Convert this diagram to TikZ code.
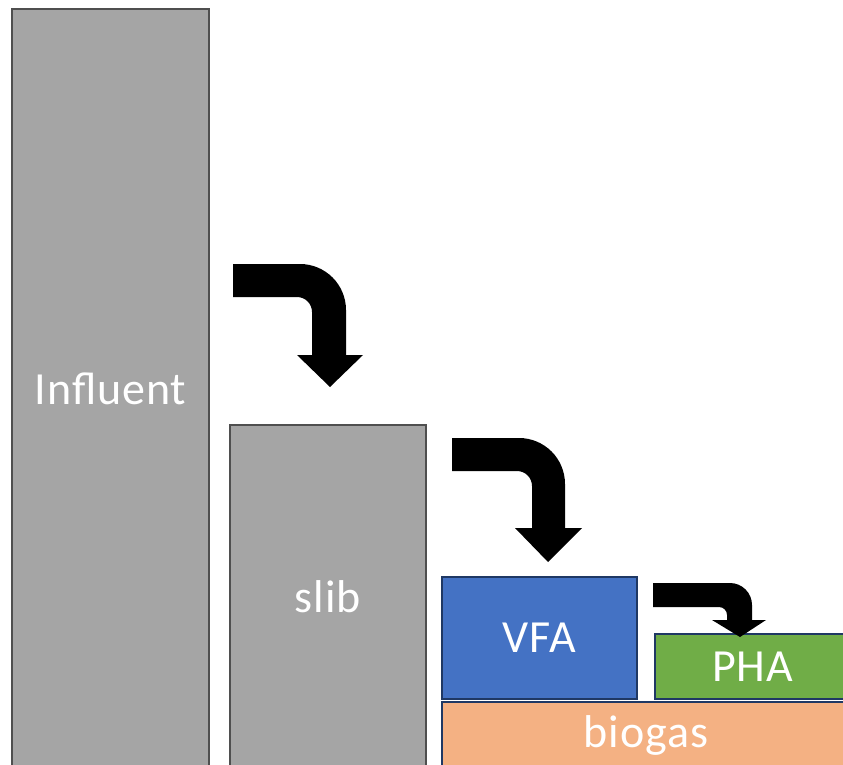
\documentclass[tikz,border=0pt]{standalone}
\usepackage{fontspec}
\setmainfont{Carlito}
\definecolor{barGray}{HTML}{A5A5A5}
\definecolor{barGrayEdge}{HTML}{4F4F4F}
\definecolor{vfaBlue}{HTML}{4472C4}
\definecolor{phaGreen}{HTML}{70AD47}
\definecolor{gasOrange}{HTML}{F4B183}
\definecolor{navyEdge}{HTML}{1F3864}
\begin{document}
\begin{tikzpicture}[x=1pt,y=-1pt,
  bar/.style={rectangle,draw,line width=1.6pt,inner sep=0pt,text=white,
    font=\fontsize{46}{55}\selectfont\addfontfeature{LetterSpace=2}},
  graybar/.style={bar,fill=barGray,draw=barGrayEdge},
  colbar/.style={bar,draw=navyEdge},
  bentarrow/.style={fill=black,draw=none}]
\useasboundingbox (0,0) rectangle (843,765);

% stacked bars (lower and right edges run off the page)
\node[graybar,minimum width=197pt,minimum height=760pt] (influent) at (110.5,389) {Influent};
\node[graybar,minimum width=196pt,minimum height=344pt] (slib) at (328,597) {slib};
\node[colbar,fill=vfaBlue,minimum width=195pt,minimum height=122pt] (vfa) at (539.5,638) {VFA};
\node[colbar,fill=phaGreen,minimum width=195pt,minimum height=65pt] (pha) at (752.5,666.5) {PHA};
\node[colbar,fill=gasOrange,minimum width=408pt,minimum height=66pt] (biogas) at (646,735) {biogas};

% bent arrows between the stages
\fill[bentarrow] (233,264) -- (300,264) .. controls (325.4,264) and (346,284.6) .. (346,310)
  -- (346,355) -- (363,355) -- (330,387) -- (297,355) -- (312,355) -- (312,312)
  .. controls (312,303.7) and (305.3,297) .. (297,297) -- (233,297) -- cycle;
\fill[bentarrow] (452,438) -- (519,438) .. controls (544.4,438) and (565,458.6) .. (565,484)
  -- (565,528) -- (582,528) -- (548,562) -- (515,528) -- (532,528) -- (532,486)
  .. controls (532,477.7) and (525.3,471) .. (517,471) -- (452,471) -- cycle;
\fill[bentarrow] (653,583) -- (730,583) .. controls (742.1,583) and (752,592.9) .. (752,605)
  -- (752,620) -- (766,620) -- (740,637) -- (712,620) -- (727,620) -- (727,615)
  .. controls (727,610.6) and (723.4,607) .. (719,607) -- (653,607) -- cycle;
\end{tikzpicture}
\end{document}
